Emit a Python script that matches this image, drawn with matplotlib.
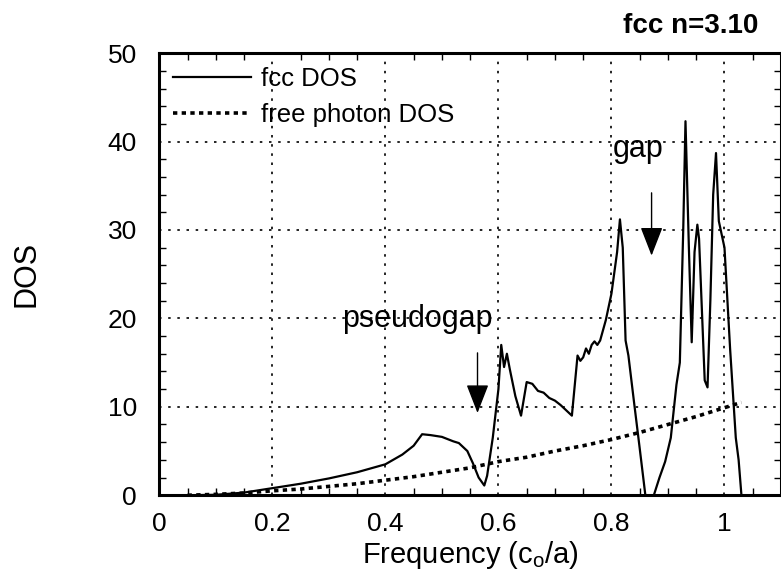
import matplotlib
matplotlib.use("Agg")
import matplotlib.pyplot as plt
from matplotlib.ticker import MultipleLocator

plt.rcParams['font.family'] = ['Liberation Sans', 'DejaVu Sans']
plt.rcParams['mathtext.fontset'] = 'custom'
plt.rcParams['mathtext.rm'] = 'Liberation Sans'

# fcc DOS
freq = [0.0, 0.05, 0.1, 0.15, 0.2, 0.25, 0.3, 0.35, 0.4, 0.43, 0.45, 0.465,
        0.48, 0.5, 0.52, 0.53, 0.545, 0.555, 0.565, 0.575, 0.58, 0.59, 0.6,
        0.605, 0.61, 0.615, 0.62, 0.63, 0.64, 0.65, 0.66, 0.67, 0.68, 0.69,
        0.70, 0.71, 0.72, 0.73, 0.74, 0.745, 0.75, 0.755, 0.76, 0.765, 0.77,
        0.775, 0.78, 0.79, 0.80, 0.81, 0.815, 0.82, 0.825, 0.83, 0.84, 0.85,
        0.86, 0.875, 0.885, 0.895, 0.905, 0.915, 0.921, 0.927, 0.931, 0.937,
        0.942, 0.947, 0.952, 0.955, 0.96, 0.965, 0.97, 0.975, 0.98, 0.985,
        0.99, 1.0, 1.01, 1.02, 1.025, 1.03]
fcc_dos = [0, 0, 0.05, 0.3, 0.8, 1.3, 1.9, 2.6, 3.5, 4.6, 5.6, 6.9,
           6.8, 6.6, 6.1, 5.9, 5.0, 3.6, 2.0, 1.1, 2.2, 6.5, 12.0,
           17.0, 14.5, 16.0, 14.3, 11.2, 9.0, 12.8, 12.6, 11.8, 11.6, 11.0,
           10.7, 10.2, 9.6, 9.0, 15.8, 15.2, 15.6, 16.6, 16.0, 17.0, 17.4,
           17.0, 17.5, 19.8, 22.8, 27.5, 31.2, 28.0, 17.5, 15.8, 10.5, 5.3,
           0, 0, 2.0, 3.8, 6.5, 12.5, 15.0, 30.0, 42.3, 28.0,
           17.3, 27.5, 30.6, 29.0, 21.0, 13.0, 12.2, 22.0, 34.0, 38.7,
           31.0, 28.0, 16.5, 6.5, 4.0, 0]

# free photon DOS
free_freq = [0.05, 0.1, 0.15, 0.2, 0.25, 0.3, 0.35, 0.4, 0.45, 0.5, 0.55,
             0.6, 0.65, 0.7, 0.75, 0.8, 0.85, 0.9, 0.95, 1.0, 1.03]
free_dos = [0.0, 0.1, 0.25, 0.5, 0.7, 1.0, 1.3, 1.7, 2.1, 2.6, 3.1,
            3.8, 4.3, 5.0, 5.6, 6.3, 7.1, 8.0, 8.9, 9.9, 10.5]

xticks = [0, 0.2, 0.4, 0.6, 0.8, 1.0]
xtick_labels = ['0', '0.2', '0.4', '0.6', '0.8', '1']
yticks = [0, 10, 20, 30, 40, 50]

fig = plt.figure(figsize=(7.81, 5.84), dpi=100)
ax = fig.add_axes([0.204, 0.152, 0.796, 0.757])

ax.plot(freq, fcc_dos, color='k', lw=1.6, label='fcc DOS')
ax.plot(free_freq, free_dos, color='k', lw=2.6, linestyle=(0, (1.2, 1.2)),
        label='free photon DOS')

ax.set_xlim(0, 1.1)
ax.set_ylim(0, 50)
ax.set_xticks(xticks)
ax.set_xticklabels(xtick_labels)
ax.set_yticks(yticks)
ax.xaxis.set_minor_locator(MultipleLocator(0.05))
ax.yaxis.set_minor_locator(MultipleLocator(2))
ax.tick_params(which='both', direction='in', top=True, right=True,
               labelsize=19, width=1)
ax.tick_params(which='major', length=0)
ax.tick_params(axis='y', which='major', pad=16)
ax.tick_params(axis='x', which='major', pad=12)
ax.tick_params(which='minor', length=5)
ax.grid(True, which='major', color='k', linestyle=(0, (1.5, 4)), lw=1.2)
for s in ax.spines.values():
    s.set_linewidth(2.2)

ax.set_xlabel(r'Frequency (c$_\mathrm{o}$/a)', fontsize=21)
ax.set_ylabel('DOS', fontsize=22)
ax.xaxis.set_label_coords(0.5, -0.098)
ax.yaxis.set_label_coords(-0.19, 0.5)

ax.legend(loc='upper left', frameon=False, fontsize=18.5, handlelength=3.0,
          handletextpad=0.4, labelspacing=0.45, borderaxespad=0.25,
          borderpad=0.3)

ax.text(0.457, 18.2, 'pseudogap', fontsize=22, ha='center', va='bottom')
ax.annotate('', xy=(0.563, 9.3), xytext=(0.563, 16.1),
            arrowprops=dict(arrowstyle='-|>,head_width=0.7,head_length=1.8',
                            color='k', lw=1, shrinkA=0, shrinkB=0))
ax.text(0.848, 37.5, 'gap', fontsize=22, ha='center', va='bottom')
ax.annotate('', xy=(0.871, 27.1), xytext=(0.871, 34.2),
            arrowprops=dict(arrowstyle='-|>,head_width=0.7,head_length=1.8',
                            color='k', lw=1, shrinkA=0, shrinkB=0))

fig.text(0.971, 0.9435, 'fcc n=3.10', fontsize=20, fontweight='bold',
         ha='right', va='baseline')

fig.savefig('out.png', dpi=100)
